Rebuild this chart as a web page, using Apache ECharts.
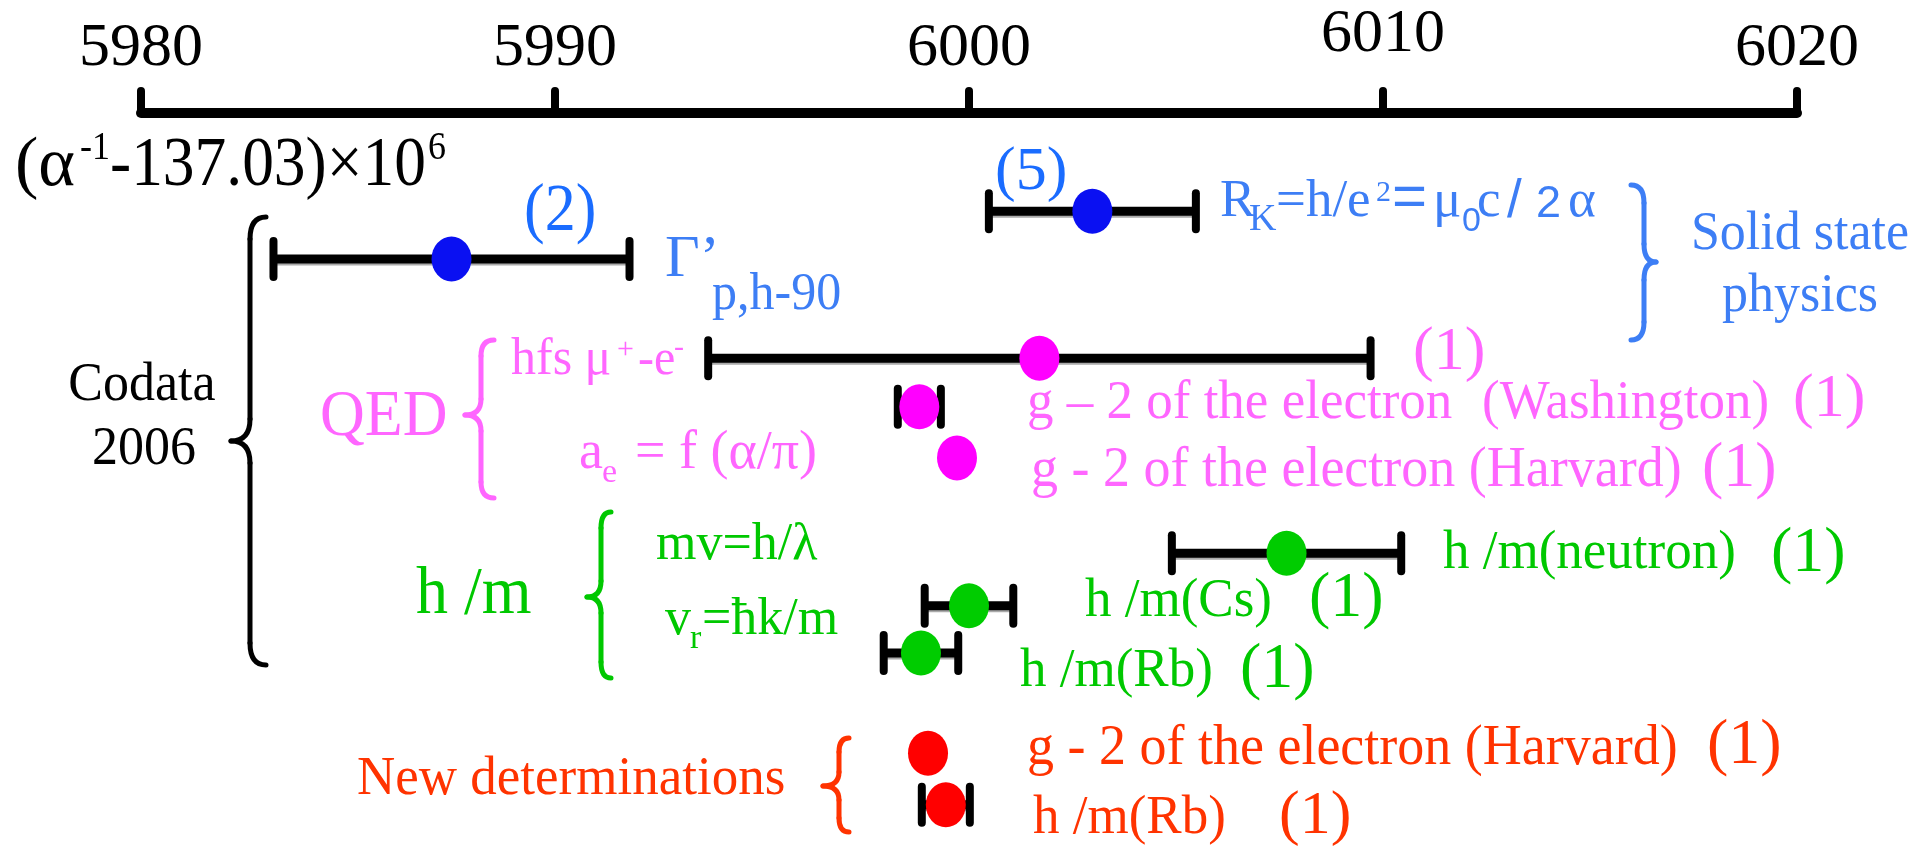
<!DOCTYPE html>
<html><head><meta charset="utf-8">
<script src="https://cdn.jsdelivr.net/npm/echarts@6/dist/echarts.min.js"></script>
<style>html,body{margin:0;padding:0;background:#fff}#c{width:1932px;height:850px}</style>
</head><body><div id="c"></div>
<script>
// ---- data ----
const measurements = ['RK', 'Gamma_p_h90', 'hfs_mu_e', 'g2_Washington', 'g2_Harvard_QED', 'hm_neutron', 'hm_Cs', 'hm_Rb_2006', 'g2_Harvard_new', 'hm_Rb_new'];
const groups = ['solid', 'solid', 'qed', 'qed', 'qed', 'hm', 'hm', 'hm', 'new', 'new'];
const values = [6002.98, 5987.5, 6001.7, 5998.8, 5999.71, 6007.67, 6000.0, 5998.84, 5999.01, 5999.44];
const uncertainties = [2.5, 4.3, 8.0, 0.52, 0, 2.77, 1.07, 0.9, 0, 0.58];
const rows = [2.0, 2.97, 4.99, 5.98, 7.02, 8.96, 10.03, 10.99, 13.03, 14.08];
const xTicks = [5980, 5990, 6000, 6010, 6020];

// ---- styles ----
const dotColor = { solid: '#0a10f2', qed: '#ff00ff', hm: '#00cc00', new: '#ff0000' };
const BLK = '#000000', BLU = '#3d7ef5', BLUN = '#1a6cff', MAG = '#ff66ff', GRN = '#00c800', RED = '#ff3300';
const SERIF = 'Liberation Serif', SANS = 'Liberation Sans';

function T(x, base, text, size, color, o) {
  o = o || {};
  return {
    type: 'text', x: x, y: base, scaleY: o.sy || 1, scaleX: o.sx || 1, silent: true, z: 10,
    style: {
      text: text, x: 0, y: -0.3375 * size, fill: color,
      fontFamily: o.font || SERIF, fontSize: size, fontWeight: o.bold ? 'bold' : 'normal',
      align: o.align || 'left', verticalAlign: 'middle'
    }
  };
}
function brace(tip, spine, point, top, mid, bottom, color, r) {
  const st = { fill: null, stroke: color, lineWidth: 5, lineCap: 'round' };
  const bz = (x1, y1, cx, cy, x2, y2) => ({ type: 'bezierCurve', silent: true, shape: { x1: x1, y1: y1, cpx1: cx, cpy1: cy, x2: x2, y2: y2 }, style: st });
  const ln = (x1, y1, x2, y2) => ({ type: 'line', silent: true, shape: { x1: x1, y1: y1, x2: x2, y2: y2 }, style: st });
  return { type: 'group', z: 10, children: [
    bz(tip, top, spine, top, spine, top + r),
    ln(spine, top + r, spine, mid - r),
    bz(spine, mid - r, spine, mid, point, mid),
    bz(point, mid, spine, mid, spine, mid + r),
    ln(spine, mid + r, spine, bottom - r),
    bz(spine, bottom - r, spine, bottom, tip, bottom)
  ] };
}

const graphics = [
  // axis quantity
  T(15, 190, '(α', 61, BLK, { sy: 1.13, sx: 1.15 }),
  T(80, 162, '-1', 36, BLK, { sy: 1.13 }),
  T(110, 190, '-137.03)×10', 61, BLK, { sy: 1.13, sx: 1.04 }),
  T(428, 162, '6', 36, BLK, { sy: 1.13 }),
  // Codata
  T(142, 404, 'Codata', 52, BLK, { align: 'center', sy: 1.05 }),
  T(144, 468, '2006', 52, BLK, { align: 'center', sy: 1.05 }),
  brace(266, 250, 231, 217, 441, 665, BLK, 22),
  // solid state
  T(524, 235, '(2)', 62, BLUN, { sy: 1.08 }),
  T(665, 280, 'Γ’', 60, BLU),
  T(712, 313, 'p,h-90', 50, BLU, { sy: 1.05 }),
  T(995, 194, '(5)', 62, BLUN),
  T(1220, 220, 'R', 53, BLU),
  T(1249, 233, 'K', 38, BLU),
  T(1276, 220, '=h/e', 53, BLU),
  T(1376, 203, '2', 30, BLU),
  T(1392, 220, '=', 60, BLU, { font: SANS }),
  T(1433, 220, 'μ', 53, BLU),
  T(1462, 233, '0', 34, BLU, { font: SANS }),
  T(1477, 220, 'c', 53, BLU),
  T(1507, 220, '/', 53, BLU, { font: SANS }),
  T(1536, 220, '2', 45, BLU, { font: SANS }),
  T(1568, 220, 'α', 53, BLU),
  brace(1631, 1644, 1656, 185, 262, 340, BLU, 18),
  T(1800, 253, 'Solid state', 52, BLU, { align: 'center', sy: 1.05 }),
  T(1800, 315, 'physics', 52, BLU, { align: 'center', sy: 1.05 }),
  // QED
  T(320, 440, 'QED', 62, MAG, { sy: 1.05 }),
  brace(494, 481, 465, 340, 415, 498, MAG, 16),
  T(511, 378, 'hfs μ', 50, MAG, { sy: 1.05 }),
  T(617, 360, '+', 30, MAG),
  T(638, 378, '-e', 48, MAG, { sy: 1.05 }),
  T(674, 358, '-', 30, MAG),
  T(579, 472, 'a', 54, MAG),
  T(602, 485, 'e', 34, MAG),
  T(635, 472, '= f (α/π)', 54, MAG),
  T(1413, 374, '(1)', 62, MAG),
  T(1027, 422, 'g – 2 of the electron', 53, MAG, { sy: 1.05 }),
  T(1482, 422, '(Washington)', 53, MAG, { sy: 1.05 }),
  T(1793, 421, '(1)', 62, MAG),
  T(1031, 490, 'g - 2 of the electron (Harvard)', 54, MAG, { sy: 1.05 }),
  T(1702, 491, '(1)', 64, MAG),
  // h/m
  T(416, 618, 'h /m', 64, GRN, { sy: 1.05 }),
  brace(611, 601, 587, 512, 597, 678, GRN, 16),
  T(656, 563, 'mv=h/λ', 52, GRN),
  T(665, 638, 'v', 52, GRN),
  T(690, 651, 'r', 34, GRN),
  T(702, 638, '=ħk/m', 52, GRN),
  T(1443, 572, 'h /m(neutron)', 53, GRN, { sy: 1.05 }),
  T(1771, 576, '(1)', 64, GRN),
  T(1085, 620, 'h /m(Cs)', 53, GRN, { sy: 1.05 }),
  T(1309, 621, '(1)', 64, GRN),
  T(1020, 690, 'h /m(Rb)', 53, GRN, { sy: 1.05 }),
  T(1240, 692, '(1)', 64, GRN),
  // new determinations
  T(357, 798, 'New determinations', 53, RED, { sy: 1.05 }),
  brace(849, 839, 823, 738, 786, 832, RED, 14),
  T(1027, 768, 'g - 2 of the electron (Harvard)', 54, RED, { sy: 1.05 }),
  T(1707, 768, '(1)', 64, RED),
  T(1033, 837, 'h /m(Rb)', 53, RED, { sy: 1.05 }),
  T(1279, 838, '(1)', 62, RED)
];

const chart = echarts.init(document.getElementById('c'), null, { renderer: 'canvas' });
chart.setOption({
  backgroundColor: '#ffffff',
  animation: false,
  grid: { left: 141, right: 135, top: 113, bottom: 0, outerBoundsMode: 'none', containLabel: false },
  xAxis: {
    type: 'value', position: 'top', min: xTicks[0], max: xTicks[xTicks.length - 1], interval: 10,
    axisLine: { show: true, onZero: false, lineStyle: { color: '#000', width: 10, cap: 'round' } },
    axisTick: { show: true, inside: false, length: 22, lineStyle: { color: '#000', width: 8, cap: 'round' } },
    axisLabel: { show: true, margin: 33, fontFamily: SERIF, fontSize: 62, color: '#000',
      formatter: v => (xTicks.indexOf(v) < 0 ? '' : (v === 6010 ? '{hi|' + v + '}' : String(v))),
      rich: { hi: { fontFamily: SERIF, fontSize: 62, color: '#000', padding: [0, 0, 14, 0] } } },
    splitLine: { show: false }
  },
  yAxis: { type: 'value', min: 0, max: 15, inverse: true, show: false },
  graphic: graphics,
  series: [
    {
      type: 'custom', name: 'uncertainty', z: 2,
      data: values.map((v, i) => [v, rows[i], uncertainties[i]]),
      renderItem: function (params, api) {
        const v = api.value(0), y = api.value(1), e = api.value(2);
        if (!e) return { type: 'group', children: [] };
        const p1 = api.coord([v - e, y]), p2 = api.coord([v + e, y]);
        const h = 18;
        return { type: 'group', children: [
          { type: 'line', shape: { x1: p1[0], y1: p1[1] + 2, x2: p2[0], y2: p2[1] + 2 }, style: { stroke: '#aaa', lineWidth: 9 } },
          { type: 'line', shape: { x1: p1[0], y1: p1[1], x2: p2[0], y2: p2[1] }, style: { stroke: '#000', lineWidth: 9 } },
          { type: 'line', shape: { x1: p1[0], y1: p1[1] - h, x2: p1[0], y2: p1[1] + h }, style: { stroke: '#000', lineWidth: 8, lineCap: 'round' } },
          { type: 'line', shape: { x1: p2[0], y1: p2[1] - h, x2: p2[0], y2: p2[1] + h }, style: { stroke: '#000', lineWidth: 8, lineCap: 'round' } }
        ] };
      }
    },
    {
      type: 'scatter', name: 'value', z: 3,
      symbol: 'path://M50,0 A50,50 0 1,1 50,100 A50,50 0 1,1 50,0 Z',
      symbolSize: [40, 45],
      itemStyle: { opacity: 1 },
      data: values.map((v, i) => ({ name: measurements[i], value: [v, rows[i]], itemStyle: { color: dotColor[groups[i]], opacity: 1 } }))
    }
  ]
});
</script>
</body></html>
